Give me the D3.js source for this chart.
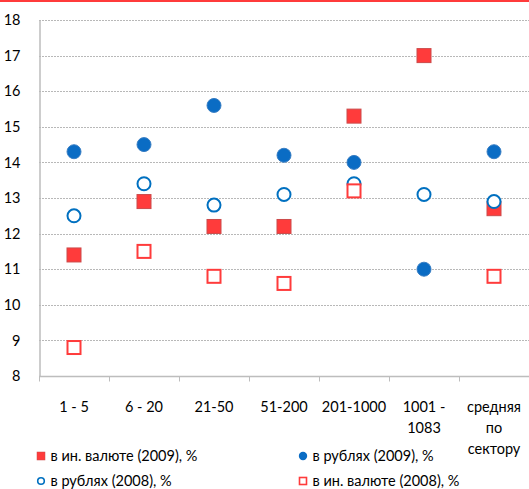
<!DOCTYPE html>
<html>
<head>
<meta charset="utf-8">
<script src="https://cdn.jsdelivr.net/npm/d3@7"></script>
<style>
  html, body { margin: 0; padding: 0; background: #fff; }
  svg { display: block; font-family: "Lato", "Open Sans", sans-serif; }
</style>
</head>
<body>
<svg id="chart" width="529" height="489"></svg>
<script>
// Size groups of banks (number of employees) and the sector average
const categories = [["1 - 5"], ["6 - 20"], ["21-50"], ["51-200"], ["201-1000"], ["1001 -", "1083"], ["средняя", "по", "сектору"]];

// Rates, %
const fxRate2009  = [11.4, 12.9, 12.2, 12.2, 15.3, 17.0, 12.7];
const rubRate2009 = [14.3, 14.5, 15.6, 14.2, 14.0, 11.0, 14.3];
const rubRate2008 = [12.5, 13.4, 12.8, 13.1, 13.4, 13.1, 12.9];
const fxRate2008  = [8.8, 11.5, 10.8, 10.6, 13.2, null, 10.8];

const yTicks = [8, 9, 10, 11, 12, 13, 14, 15, 16, 17, 18];

const seriesNames = ["в ин. валюте (2009), %", "в рублях (2009), %", "в рублях (2008), %", "в ин. валюте (2008), %"];

const RED = "#ff3b3b";
const BLUE = "#0a6cc4";
const FONT_SIZE = 14.5;

const svg = d3.select("#chart");
const margin = { left: 39, right: 0, top: 20, bottom: 113 };
const W = 529, H = 489;

// top rule
svg.append("rect").attr("x", 0).attr("y", 0).attr("width", W).attr("height", 2).attr("fill", RED);

const x = d3.scaleBand().domain(d3.range(categories.length)).range([margin.left, W - margin.right]);
const y = d3.scaleLinear().domain([8, 18]).range([H - margin.bottom, margin.top]);

// gridlines
svg.append("g").selectAll("line").data(yTicks.filter(t => t > 8)).join("line")
  .attr("x1", margin.left).attr("x2", W)
  .attr("y1", d => Math.round(y(d)) + 0.5).attr("y2", d => Math.round(y(d)) + 0.5)
  .attr("stroke", "#b8b8b8").attr("stroke-width", 1).attr("stroke-dasharray", "2,1");

// y axis
const yAxis = svg.append("g").attr("transform", `translate(${margin.left + 0.5},0)`)
  .call(d3.axisLeft(y).tickValues(yTicks).tickSize(0).tickPadding(19).tickFormat(d3.format("d")));
yAxis.select(".domain").attr("stroke", "#bdbdbd").attr("stroke-width", 1.5);
yAxis.selectAll("text").attr("font-size", FONT_SIZE).attr("fill", "#000").attr("font-family", "Lato, 'Open Sans', sans-serif");

// x axis: ticks at band edges
const xAxisG = svg.append("g").attr("transform", `translate(0,${Math.round(y(8)) + 0.5})`);
xAxisG.append("line").attr("x1", margin.left).attr("x2", W).attr("stroke", "#bdbdbd").attr("stroke-width", 1.5);
xAxisG.selectAll("line.tick").data(d3.range(categories.length)).join("line").attr("class", "tick")
  .attr("x1", d => Math.round(x(d)) + 0.5).attr("x2", d => Math.round(x(d)) + 0.5)
  .attr("y1", 0).attr("y2", 5).attr("stroke", "#bdbdbd").attr("stroke-width", 1);

const cx = i => x(i) + x.bandwidth() / 2;

// category labels
svg.append("g").selectAll("text").data(categories).join("text")
  .attr("x", (d, i) => cx(i)).attr("y", 412)
  .attr("text-anchor", "middle").attr("font-size", FONT_SIZE).attr("fill", "#000")
  .each(function (lines) {
    d3.select(this).selectAll("tspan").data(lines).join("tspan")
      .attr("x", d3.select(this).attr("x"))
      .attr("dy", (d, j) => j === 0 ? 0 : 21)
      .text(d => d);
  });

const pts = (vals) => vals.map((v, i) => ({ i, v })).filter(d => d.v != null);
const plot = svg.append("g");

// в ин. валюте (2009) — filled squares
plot.append("g").selectAll("rect").data(pts(fxRate2009)).join("rect")
  .attr("x", d => cx(d.i) - 7).attr("y", d => y(d.v) - 7).attr("width", 14).attr("height", 14)
  .attr("fill", RED).attr("stroke", "#cc4a4a").attr("stroke-width", 1);

// в рублях (2009) — filled circles
plot.append("g").selectAll("circle").data(pts(rubRate2009)).join("circle")
  .attr("cx", d => cx(d.i)).attr("cy", d => y(d.v)).attr("r", 7)
  .attr("fill", BLUE).attr("stroke", "#3a7fc4").attr("stroke-width", 1);

// в рублях (2008) — open circles
plot.append("g").selectAll("circle").data(pts(rubRate2008)).join("circle")
  .attr("cx", d => cx(d.i)).attr("cy", d => y(d.v)).attr("r", 6.5)
  .attr("fill", "#fff").attr("stroke", "#0070c0").attr("stroke-width", 2);

// в ин. валюте (2008) — open squares
plot.append("g").selectAll("rect").data(pts(fxRate2008)).join("rect")
  .attr("x", d => cx(d.i) - 6.5).attr("y", d => y(d.v) - 6.5).attr("width", 13).attr("height", 13)
  .attr("fill", "#fff").attr("stroke", RED).attr("stroke-width", 2);

// legend
const legendPos = [[41, 456], [303, 456], [41, 481], [303, 481]];
const leg = svg.append("g");
seriesNames.forEach((name, k) => {
  const [lx, ly] = legendPos[k];
  const g = leg.append("g").attr("transform", `translate(${lx},${ly})`);
  if (k === 0) g.append("rect").attr("x", -4).attr("y", -4).attr("width", 8).attr("height", 8).attr("fill", RED).attr("stroke", "#cc4a4a").attr("stroke-width", 0.5);
  if (k === 1) g.append("circle").attr("r", 4.2).attr("fill", BLUE);
  if (k === 2) g.append("circle").attr("r", 3.3).attr("fill", "#fff").attr("stroke", "#0070c0").attr("stroke-width", 1.6);
  if (k === 3) g.append("rect").attr("x", -3.5).attr("y", -3.5).attr("width", 7).attr("height", 7).attr("fill", "#fff").attr("stroke", RED).attr("stroke-width", 1.6);
  g.append("text").attr("x", 9.5).attr("y", 5).attr("font-size", FONT_SIZE).attr("fill", "#000").text(name);
});
</script>
</body>
</html>
